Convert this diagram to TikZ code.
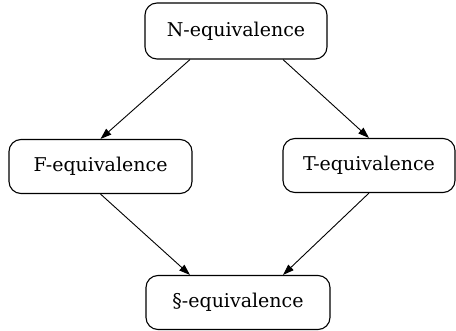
\documentclass[tikz,border=0pt]{standalone}
\usepackage{fontspec}
\setmainfont{DejaVu Serif}
\usepackage{tikz}
\usetikzlibrary{arrows.meta}

\begin{document}
\begin{tikzpicture}[
  x=1pt, y=-1pt,
  box/.style={draw=black, line width=1.1pt, rounded corners=12pt, minimum height=54pt, inner sep=0pt, font=\fontsize{19}{23}\selectfont},
  edge/.style={draw=black, line width=0.9pt, -{Triangle[length=11pt,width=7.5pt]}}
]
\useasboundingbox (0,0) rectangle (456,331);
\node[box, minimum width=182pt, minimum height=56pt] (n) at (236,31) {N-equivalence};
\node[box, minimum width=183pt] (f) at (100.5,166.5) {F-equivalence};
\node[box, minimum width=172pt] (t) at (369,165.5) {T-equivalence};
\node[box, minimum width=184pt] (s) at (238,302.5) {§-equivalence};
\draw[edge] ([xshift=-46pt]n.south) -- (f.north);
\draw[edge] ([xshift=47pt]n.south) -- (t.north);
\draw[edge] (f.south) -- ([xshift=-48pt]s.north);
\draw[edge] (t.south) -- ([xshift=45pt]s.north);
\end{tikzpicture}
\end{document}
